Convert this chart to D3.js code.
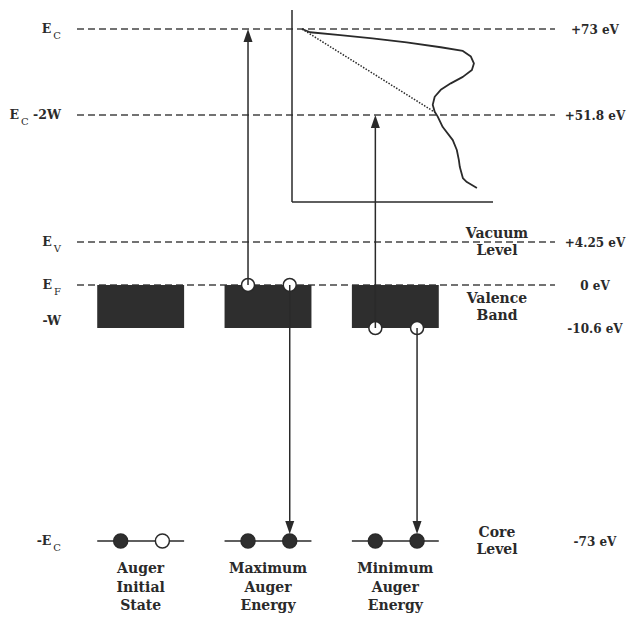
<!DOCTYPE html>
<html>
<head>
<meta charset="utf-8">
<script src="https://cdn.jsdelivr.net/npm/d3@7"></script>
<style>
  body { margin: 0; background: #fff; }
  text { font-family: "DejaVu Serif", serif; fill: #2a2a2a; font-weight: bold; }
</style>
</head>
<body>
<div id="chart"></div>
<script>
// energy levels (eV), top to bottom
var levelValues = [73, 51.8, 4.25, 0, -10.6, -73];
var levelNames = [["E", "C", ""], ["E", "C", " -2W"], ["E", "V", ""], ["E", "F", ""], ["-W", "", ""], ["-E", "C", ""]];
var levelLabels = ["+73 eV", "+51.8 eV", "+4.25 eV", "0 eV", "-10.6 eV", "-73 eV"];
var dashedLevels = [73, 51.8, 4.25, 0];

// the three panels
var columns = [["Auger", "Initial", "State"], ["Maximum", "Auger", "Energy"], ["Minimum", "Auger", "Energy"]];
var coreFilled = [[true, false], [true, true], [true, true]];

// holes in the valence band and where each electron goes
var holeCol = [1, 1, 2, 2];
var holeSlot = [0, 1, 0, 1];
var holeEnergy = [0, 0, -10.6, -10.6];
var arrowTo = [73, -73, 51.8, -73];

var sideLabels = [["Vacuum", "Level"], ["Valence", "Band"], ["Core", "Level"]];
var sideEnergy = [4.25, -5.3, -73];

// Auger spectrum in the inset (energy vs intensity, arb. units)
var specEnergy = [73, 72.2, 71.5, 70.7, 69.7, 68.5, 67.6, 66.2, 64.5, 62.9, 61.2, 59.6, 58.0, 56.3, 54.3, 52.6, 51.2, 47.3, 42.4, 38.7, 35.0, 32.3, 28.2, 26.7, 24.5];
var specIntensity = [5, 9, 24, 40, 57, 74, 85, 89, 90.5, 89.5, 85, 79, 74, 71, 70, 71, 72.5, 75, 80, 82, 83, 83.5, 85, 87, 92];
var bgEnergy = [73, 52.5];
var bgIntensity = [5, 71];

var W = 632, H = 617;
var ink = "#2a2a2a";

var svg = d3.select("#chart").append("svg")
  .attr("width", W).attr("height", H);

// schematic (piecewise) energy axis
var y = d3.scaleLinear()
  .domain([-73, -10.6, 0, 4.25, 51.8, 73])
  .range([541, 328, 285, 242, 115, 29]);

var x = d3.scaleBand()
  .domain(d3.range(columns.length))
  .range([77, 459])
  .paddingInner(0.3176)
  .paddingOuter(0.1588);

var slot = d3.scaleLinear().domain([0, 1]).range([0.27, 0.75]);
function slotX(c, s) { return x(c) + slot(s) * x.bandwidth(); }

var ix = d3.scaleLinear().domain([0, 100]).range([292, 493]);

// dashed energy levels
svg.selectAll("line.level").data(dashedLevels).enter().append("line")
  .attr("x1", 77).attr("x2", 555)
  .attr("y1", function (d) { return y(d); })
  .attr("y2", function (d) { return y(d); })
  .attr("stroke", "#444").attr("stroke-width", 1.5)
  .attr("stroke-dasharray", "7,4");

// inset axes
svg.append("line").attr("x1", ix(0)).attr("x2", ix(0)).attr("y1", 10).attr("y2", 202)
  .attr("stroke", ink).attr("stroke-width", 1.5);
svg.append("line").attr("x1", ix(0)).attr("x2", ix(100)).attr("y1", 202).attr("y2", 202)
  .attr("stroke", ink).attr("stroke-width", 1.5);

var specLine = d3.line()
  .x(function (d) { return ix(d[1]); })
  .y(function (d) { return y(d[0]); });

svg.append("path")
  .datum(d3.zip(bgEnergy, bgIntensity))
  .attr("d", specLine)
  .attr("fill", "none").attr("stroke", ink).attr("stroke-width", 1.5)
  .attr("stroke-dasharray", "1.5,1.5");

svg.append("path")
  .datum(d3.zip(specEnergy, specIntensity))
  .attr("d", specLine)
  .attr("fill", "none").attr("stroke", ink).attr("stroke-width", 1.8)
  .attr("stroke-linejoin", "round");

// valence bands
svg.selectAll("rect.band").data(columns).enter().append("rect")
  .attr("x", function (d, i) { return x(i); })
  .attr("y", y(0))
  .attr("width", x.bandwidth())
  .attr("height", y(-10.6) - y(0))
  .attr("fill", "#2e2e2e");

// core levels
columns.forEach(function (c, i) {
  svg.append("line")
    .attr("x1", x(i)).attr("x2", x(i) + x.bandwidth())
    .attr("y1", y(-73)).attr("y2", y(-73))
    .attr("stroke", ink).attr("stroke-width", 1.5);
  coreFilled[i].forEach(function (f, s) {
    svg.append("circle")
      .attr("cx", slotX(i, s)).attr("cy", y(-73)).attr("r", 7)
      .attr("fill", f ? "#2e2e2e" : "#fff")
      .attr("stroke", ink).attr("stroke-width", 1.5);
  });
});

// holes
holeCol.forEach(function (c, k) {
  svg.append("circle")
    .attr("cx", slotX(c, holeSlot[k])).attr("cy", y(holeEnergy[k])).attr("r", 6.5)
    .attr("fill", "#fff").attr("stroke", ink).attr("stroke-width", 1.5);
});

// transitions
holeCol.forEach(function (c, k) {
  var xx = slotX(c, holeSlot[k]);
  var y0 = y(holeEnergy[k]);
  var up = arrowTo[k] > holeEnergy[k];
  var tip = up ? y(arrowTo[k]) : y(arrowTo[k]) - 7;
  var dir = up ? 1 : -1;
  var headLen = 13, half = 4.5;
  svg.append("line")
    .attr("x1", xx).attr("x2", xx)
    .attr("y1", y0).attr("y2", tip + dir * headLen)
    .attr("stroke", ink).attr("stroke-width", 1.5);
  svg.append("path")
    .attr("d", "M" + xx + "," + tip + "L" + (xx - half) + "," + (tip + dir * headLen) +
      "L" + (xx + half) + "," + (tip + dir * headLen) + "Z")
    .attr("fill", ink);
});

// left level names with subscripts
levelNames.forEach(function (n, i) {
  var yy = y(levelValues[i]) + (n[0] === "-W" ? -3 : 4);
  var t = svg.append("text")
    .attr("x", 61).attr("y", yy)
    .attr("text-anchor", "end")
    .style("font-size", "12.5px");
  t.append("tspan").text(n[0]);
  if (n[1]) {
    t.append("tspan").attr("dx", 2).attr("dy", 6)
      .style("font-size", "10px").style("font-weight", "normal").text(n[1]);
  }
  if (n[2]) {
    t.append("tspan").attr("dy", -6).text(n[2]);
  }
});

// right energy values
svg.selectAll("text.val").data(levelLabels).enter().append("text")
  .attr("x", 595)
  .attr("y", function (d, i) { return y(levelValues[i]) + 5; })
  .attr("text-anchor", "middle")
  .style("font-size", "12px")
  .text(function (d) { return d; });

// side labels
sideLabels.forEach(function (l, i) {
  var yc = y(sideEnergy[i]);
  svg.append("text")
    .attr("x", 497).attr("y", yc - 4)
    .attr("text-anchor", "middle")
    .style("font-size", "14px")
    .selectAll("tspan").data(l).enter().append("tspan")
      .attr("x", 497)
      .attr("dy", function (d, j) { return j ? 17 : 0; })
      .text(function (d) { return d; });
});

// column captions
columns.forEach(function (c, i) {
  svg.append("text")
    .attr("x", x(i) + x.bandwidth() / 2).attr("y", 573)
    .attr("text-anchor", "middle")
    .style("font-size", "14px")
    .selectAll("tspan").data(c).enter().append("tspan")
      .attr("x", x(i) + x.bandwidth() / 2)
      .attr("dy", function (d, j) { return j ? 18.5 : 0; })
      .text(function (d) { return d; });
});
</script>
</body>
</html>
